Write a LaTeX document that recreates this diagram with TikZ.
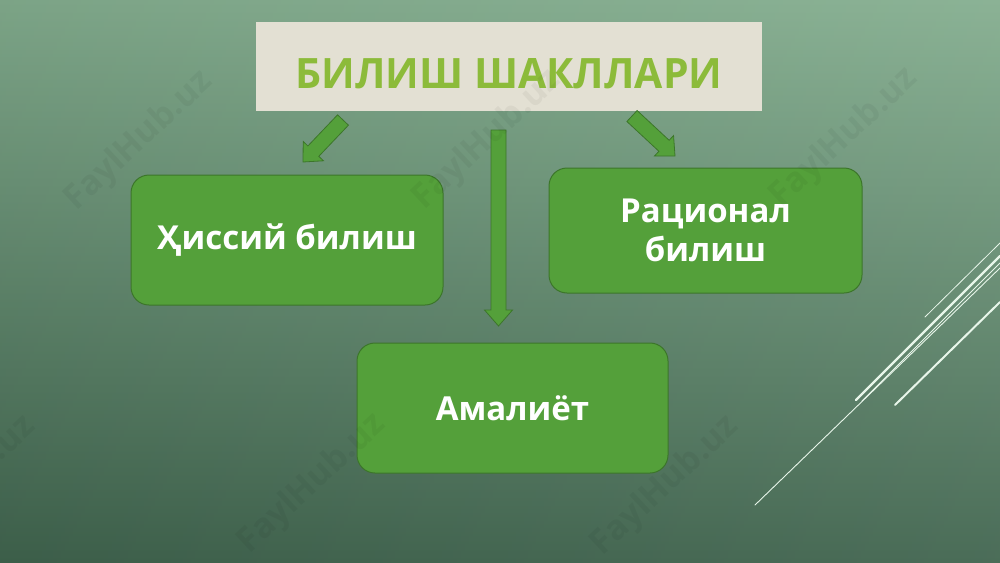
\documentclass[tikz,border=0pt]{standalone}
\usepackage{fontspec}
\setmainfont{Open Sans}
\usetikzlibrary{calc}
\definecolor{bgtop}{RGB}{132,174,143}
\definecolor{bgbot}{RGB}{64,100,78}
\definecolor{boxgreen}{RGB}{84,160,58}
\definecolor{boxedge}{RGB}{60,118,42}
\definecolor{titlebg}{RGB}{227,224,211}
\definecolor{titlefg}{RGB}{140,187,58}
\definecolor{lineclr}{RGB}{232,246,234}
\newcommand{\blockarr}[5]{%
  \coordinate (#1-b) at ($(#2)!#5!(#1)$);
  \draw[blockarrow] ($(#1)!#3!90:(#2)$) -- ($(#1-b)!#3!90:(#2)$) -- ($(#1-b)!#4!90:(#2)$)
    -- (#2) -- ($(#1-b)!#4!-90:(#2)$) -- ($(#1-b)!#3!-90:(#2)$) -- ($(#1)!#3!-90:(#2)$) -- cycle;}
\begin{document}
\begin{tikzpicture}[x=1pt,y=-1pt,
  stepbox/.style={draw=boxedge, line width=1pt, fill=boxgreen, rounded corners=18pt,
    text=white, font=\bfseries\fontsize{33}{39}\selectfont, align=center, inner sep=0pt},
  blockarrow/.style={draw=boxedge, line width=0.8pt, fill=boxgreen, line join=miter},
  deco/.style={draw=lineclr, line cap=round},
  wm/.style={font=\bfseries\fontsize{34}{34}\selectfont, text=black, opacity=0.045, rotate=43}
]
\useasboundingbox (0,0) rectangle (1000,562);
\shade[top color=bgtop, bottom color=bgbot] (0,0) rectangle (1000,562);
\shade[left color=black, right color=white, opacity=0.06] (0,0) rectangle (1000,562);

% title
\node[fill=titlebg, minimum width=506pt, minimum height=89pt, inner sep=0pt] (title) at (509,66.5) {};
\node[text=titlefg, inner sep=0pt, anchor=base] (titletext) at (509,88)
  {\resizebox{427pt}{30pt}{\bfseries БИЛИШ ШАКЛЛАРИ}};

% boxes
\node[stepbox, minimum width=312pt, minimum height=130pt] (hiss) at (287,240) {Ҳиссий билиш};
\node[stepbox, minimum width=313pt, minimum height=125pt] (rats) at (705.5,230.5) {Рационал\\билиш};
\node[stepbox, minimum width=311pt, minimum height=130pt] (amal) at (512.5,408) {Амалиёт};

% block arrows
\coordinate (la) at (343,120);
\coordinate (lah) at (303,162);
\coordinate (ra) at (632,116);
\coordinate (rah) at (675,156);
\coordinate (da) at (498.5,130);
\coordinate (dah) at (498.5,326);
\blockarr{la}{lah}{7.5pt}{14pt}{15pt}
\blockarr{ra}{rah}{7.5pt}{14pt}{15pt}
\blockarr{da}{dah}{7.5pt}{14pt}{16pt}

% decorative lines
\draw[deco, line width=0.8pt] (925,317) -- (1000,243);
\draw[deco, line width=2.4pt] (856,400) -- (1000,256);
\draw[deco, line width=1pt] (862,401) -- (1000,263);
\draw[deco, line width=0.9pt] (755,505) -- (1000,268);
\draw[deco, line width=2pt] (895,405) -- (1000,302);

% watermarks
\begin{scope}
\clip (0,0) rectangle (1000,562);
\foreach \p/\n in {{(139,141)}/w1, {(487,140)}/w2, {(844,138)}/w3, {(-38,486)}/w4, {(312,484)}/w5, {(665,486)}/w6}
  \node[wm] (\n) at \p {FaylHub.uz};
\end{scope}
\end{tikzpicture}
\end{document}
